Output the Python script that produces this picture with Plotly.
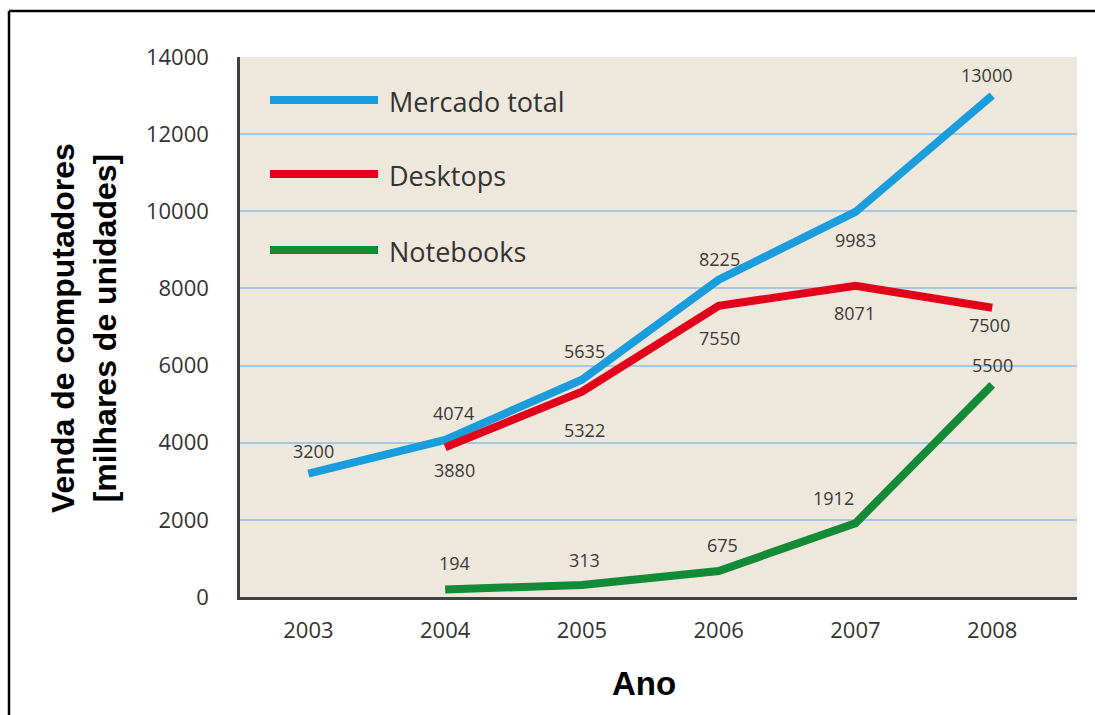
import plotly.graph_objects as go

years = [2003, 2004, 2005, 2006, 2007, 2008]
mercado = [3200, 4074, 5635, 8225, 9983, 13000]
desktops = [None, 3880, 5322, 7550, 8071, 7500]
notebooks = [None, 194, 313, 675, 1912, 5500]
y_ticks = [0, 2000, 4000, 6000, 8000, 10000, 12000, 14000]

series_names = ["Mercado total", "Desktops", "Notebooks"]
colors = ["#1a9ddc", "#e2001a", "#128a36"]

# label offsets in pixels (dx, dy screen-down)
mercado_off = [(5, -23), (8, -27), (3, -29), (1, -21), (0, 28), (-6, -21)]
desktop_off = [None, (9, 23), (3, 38), (1, 32), (-1, 27), (-3, 17)]
notebook_off = [None, (9, -27), (3, -25), (4, -26), (-22, -25), (0, -20)]

label_font = dict(family="Open Sans, Lato, sans-serif", size=18, color="#3a3a3a")

fig = go.Figure()
annotations = []
for vals, col, offs, name in zip([mercado, desktops, notebooks], colors,
                                 [mercado_off, desktop_off, notebook_off], series_names):
    fig.add_trace(go.Scatter(
        x=years, y=vals, mode="lines", name=name,
        line=dict(color=col, width=8), showlegend=False,
    ))
    for xv, yv, off in zip(years, vals, offs):
        if yv is None:
            continue
        annotations.append(dict(x=xv, y=yv, xref="x", yref="y", text=str(yv),
                                showarrow=False, xshift=off[0], yshift=-off[1],
                                xanchor="center", yanchor="middle", font=label_font))

W0, W1 = 240, 1077
H0, H1 = 57, 597


def px(x):
    return (x - W0) / (W1 - W0)


def py(y):
    return (H1 - y) / (H1 - H0)


shapes = []
# custom legend
for i, (name, col) in enumerate(zip(series_names, colors)):
    yy = [100, 174, 250][i]
    shapes.append(dict(type="line", xref="paper", yref="paper",
                       x0=px(270), x1=px(378), y0=py(yy), y1=py(yy),
                       line=dict(color=col, width=8)))
    annotations.append(dict(xref="paper", yref="paper", x=px(387), y=py(yy + 1),
                            text=name, showarrow=False, xanchor="left", yanchor="middle",
                            font=dict(family="Open Sans, Lato, sans-serif", size=27, color="#333333")))

# outer frame
shapes.append(dict(type="line", xref="paper", yref="paper", x0=px(9), x1=px(9),
                   y0=py(11), y1=py(720), line=dict(color="black", width=2.5)))
shapes.append(dict(type="line", xref="paper", yref="paper", x0=px(9), x1=px(1100),
                   y0=py(11), y1=py(11), line=dict(color="black", width=2.5)))

annotations.append(dict(xref="paper", yref="paper", x=px(84), y=py(328),
                        text="<b>Venda de computadores<br>[milhares de unidades]</b>",
                        textangle=-90, showarrow=False, xanchor="center", yanchor="middle",
                        font=dict(family="Liberation Sans, Arial, sans-serif", size=32, color="black")))
annotations.append(dict(xref="paper", yref="paper", x=px(644), y=py(683),
                        text="<b>Ano</b>", showarrow=False, xanchor="center", yanchor="middle",
                        font=dict(family="Liberation Sans, Arial, sans-serif", size=33, color="black")))

tick_font = dict(family="Open Sans, Lato, sans-serif", size=22, color="#333333")

fig.update_layout(
    width=1095, height=715,
    margin=dict(l=W0, r=1095 - W1, t=H0, b=715 - H1),
    paper_bgcolor="white", plot_bgcolor="#eee7db",
    shapes=shapes, annotations=annotations,
    xaxis=dict(range=[2002.5, 2008.62], tickvals=years, ticktext=[str(y) for y in years],
               showgrid=False, zeroline=False, showline=True, linecolor="#404040", linewidth=2.5,
               tickfont=tick_font, ticks="", ticklabelstandoff=12, fixedrange=True),
    yaxis=dict(range=[0, 14000], tickvals=y_ticks, ticktext=[str(v) for v in y_ticks],
               showgrid=True, gridcolor="#a9c6df", gridwidth=2, zeroline=False,
               showline=True, linecolor="#404040", linewidth=2.5,
               tickfont=tick_font, ticks="", ticklabelstandoff=24, fixedrange=True),
)

fig.write_html("out.html")
